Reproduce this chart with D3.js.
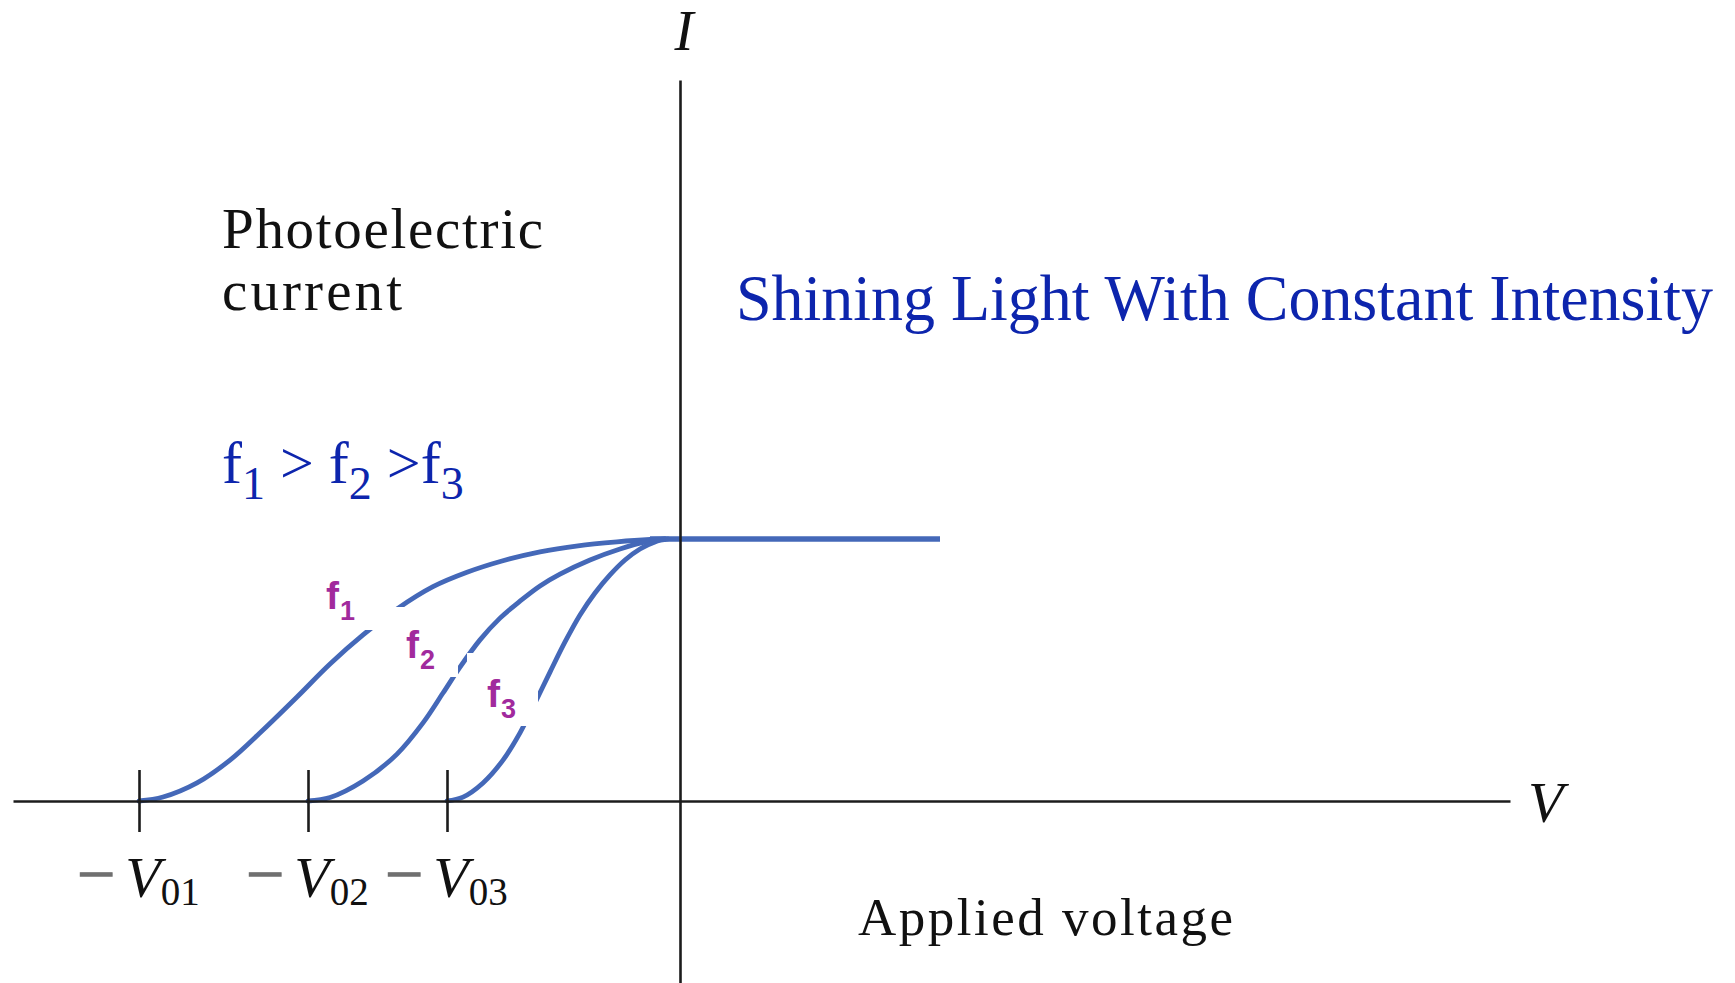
<!DOCTYPE html>
<html>
<head>
<meta charset="utf-8">
<script src="https://cdn.jsdelivr.net/npm/d3@7/dist/d3.min.js"></script>
<style>
  html, body { margin: 0; padding: 0; background: #ffffff; }
  svg { display: block; }
</style>
</head>
<body>
<svg id="chart" width="1735" height="983"></svg>
<script>
// ---------------- data (V in arbitrary units, I normalised to saturation = 1) ----------------
const seriesNames = ["f1", "f2", "f3"];
const stoppingVoltages = [-5.41, -3.72, -2.33];
const tickLabels = [["−", "V", "01"], ["−", "V", "02"], ["−", "V", "03"]];

const curveF1 = [
  [-5.41, 0], [-5.17, 0.015], [-4.83, 0.069], [-4.50, 0.156], [-4.17, 0.271],
  [-3.83, 0.397], [-3.50, 0.523], [-3.17, 0.634], [-2.83, 0.733], [-2.47, 0.818],
  [-2.13, 0.873], [-1.78, 0.916], [-1.40, 0.951], [-1.02, 0.974], [-0.63, 0.989],
  [-0.30, 0.998], [-0.15, 1.0]
];
const curveF2 = [
  [-3.72, 0], [-3.50, 0.013], [-3.17, 0.076], [-2.83, 0.179], [-2.57, 0.298],
  [-2.37, 0.412], [-2.20, 0.511], [-2.00, 0.615], [-1.80, 0.698], [-1.60, 0.763],
  [-1.40, 0.821], [-1.20, 0.866], [-0.90, 0.920], [-0.60, 0.962], [-0.35, 0.989],
  [-0.15, 1.0]
];
const curveF3 = [
  [-2.33, 0], [-2.17, 0.015], [-1.97, 0.069], [-1.77, 0.156], [-1.60, 0.260],
  [-1.45, 0.374], [-1.30, 0.492], [-1.15, 0.607], [-1.00, 0.710], [-0.85, 0.794],
  [-0.70, 0.863], [-0.55, 0.920], [-0.40, 0.962], [-0.25, 0.989], [-0.12, 1.0]
];
const saturationLine = [[-0.30, 1.0], [2.60, 1.0]];

// ---------------- layout ----------------
const svg = d3.select("#chart");
const x = d3.scaleLinear().domain([-6.67, 8.30]).range([13, 1510]);
const y = d3.scaleLinear().domain([-0.6947, 2.7519]).range([983, 80]);

const curveColor = "#4468b8";
const axisColor = "#1c1c1c";
const blue = "#0d25ad";
const magenta = "#a12a9d";
const serif = "'Liberation Serif', 'Times New Roman', serif";
const sans = "'Liberation Sans', Arial, sans-serif";

const line = d3.line().x(d => x(d[0])).y(d => y(d[1])).curve(d3.curveCatmullRom.alpha(0.5));

// curves
const curves = [curveF1, curveF2, curveF3];
svg.append("g").selectAll("path.iv")
  .data(curves)
  .join("path")
  .attr("class", "iv")
  .attr("d", line)
  .attr("fill", "none")
  .attr("stroke", curveColor)
  .attr("stroke-width", 4.8)
  .attr("stroke-linecap", "round");

svg.append("path")
  .datum(saturationLine)
  .attr("d", d3.line().x(d => x(d[0])).y(d => y(d[1])))
  .attr("fill", "none")
  .attr("stroke", curveColor)
  .attr("stroke-width", 5.5);

// white label backgrounds (they hide parts of the curves, as in the original)
const labelBoxes = [
  { x0: 315, y0: 572, x1: 387, y1: 630 },
  { x0: 387, y0: 607, x1: 458, y1: 677 },
  { x0: 467, y0: 653, x1: 538, y1: 726 }
];
svg.append("g").selectAll("rect")
  .data(labelBoxes)
  .join("rect")
  .attr("x", d => d.x0).attr("y", d => d.y0)
  .attr("width", d => d.x1 - d.x0).attr("height", d => d.y1 - d.y0)
  .attr("fill", "#ffffff");

// curve labels
const curveLabelPos = [
  { x: 326, y: 609 },
  { x: 406, y: 658 },
  { x: 487, y: 707 }
];
const labG = svg.append("g");
seriesNames.forEach((name, i) => {
  const t = labG.append("text")
    .attr("x", curveLabelPos[i].x).attr("y", curveLabelPos[i].y)
    .attr("fill", magenta)
    .attr("font-family", sans)
    .attr("font-weight", "bold")
    .attr("font-size", 39);
  t.append("tspan").text(name[0]);
  t.append("tspan").attr("font-size", 27).attr("dy", 11).attr("dx", 1).text(name.slice(1));
});

// x axis
const xAxis = d3.axisBottom(x)
  .tickValues(stoppingVoltages)
  .tickSize(31)
  .tickSizeOuter(0)
  .tickFormat("");
const gx = svg.append("g")
  .attr("transform", `translate(0,${y(0)})`)
  .call(xAxis);
gx.select(".domain").attr("stroke", axisColor).attr("stroke-width", 2.6);
gx.selectAll(".tick line").attr("y1", -31).attr("stroke", axisColor).attr("stroke-width", 2.6);

// y axis
const yAxis = d3.axisLeft(y).tickValues([]).tickSizeOuter(0);
const gy = svg.append("g")
  .attr("transform", `translate(${x(0)},0)`)
  .call(yAxis);
gy.select(".domain").attr("stroke", axisColor).attr("stroke-width", 2.6);

// tick labels  −V01, −V02, −V03
const tl = svg.append("g");
stoppingVoltages.forEach((v, i) => {
  const t = tl.append("text")
    .attr("x", x(v) - 62)
    .attr("y", 897)
    .attr("font-family", serif)
    .attr("font-size", 58)
    .attr("fill", "#111");
  t.append("tspan").attr("fill", "#707070").attr("stroke", "#707070").attr("stroke-width", 1.2)
    .attr("font-size", 68).attr("dy", 0).text(tickLabels[i][0]);
  t.append("tspan").attr("font-style", "italic").attr("dx", 10).attr("dy", 0).text(tickLabels[i][1]);
  t.append("tspan").attr("font-size", 39).attr("dx", 0).attr("dy", 8).text(tickLabels[i][2]);
});

// axis letters
svg.append("text")
  .attr("x", 684).attr("y", 50)
  .attr("text-anchor", "middle")
  .attr("font-family", serif).attr("font-style", "italic")
  .attr("font-size", 57).attr("fill", "#111")
  .text("I");
svg.append("text")
  .attr("x", 1528).attr("y", 822)
  .attr("font-family", serif).attr("font-style", "italic")
  .attr("font-size", 58).attr("fill", "#111")
  .text("V");

// axis descriptions
svg.append("text")
  .attr("x", 222).attr("y", 248)
  .attr("font-family", serif).attr("font-size", 57).attr("fill", "#111")
  .attr("textLength", 321).attr("lengthAdjust", "spacing")
  .text("Photoelectric");
svg.append("text")
  .attr("x", 222).attr("y", 310)
  .attr("font-family", serif).attr("font-size", 57).attr("fill", "#111")
  .attr("textLength", 180).attr("lengthAdjust", "spacing")
  .text("current");
svg.append("text")
  .attr("x", 858).attr("y", 935)
  .attr("font-family", serif).attr("font-size", 53).attr("fill", "#111")
  .attr("textLength", 375).attr("lengthAdjust", "spacing")
  .text("Applied voltage");

// title
svg.append("text")
  .attr("x", 736).attr("y", 320)
  .attr("font-family", serif).attr("font-size", 65).attr("fill", blue)
  .attr("textLength", 977).attr("lengthAdjust", "spacingAndGlyphs")
  .text("Shining Light With Constant Intensity");

// frequency ordering  f1 > f2 >f3
const ord = svg.append("text")
  .attr("x", 222).attr("y", 483)
  .attr("font-family", serif).attr("font-size", 60).attr("fill", blue);
const ordParts = [["f", ""], ["1", "sub"], [" > ", ""], ["f", ""], ["2", "sub"], [" >", ""], ["f", ""], ["3", "sub"]];
ordParts.forEach((p, i) => {
  const isSub = p[1] === "sub";
  const prevSub = i > 0 && ordParts[i - 1][1] === "sub";
  const ts = ord.append("tspan").text(p[0]).attr("dy", isSub ? 16 : (prevSub ? -16 : 0));
  if (isSub) ts.attr("font-size", 46);
});
</script>
</body>
</html>
